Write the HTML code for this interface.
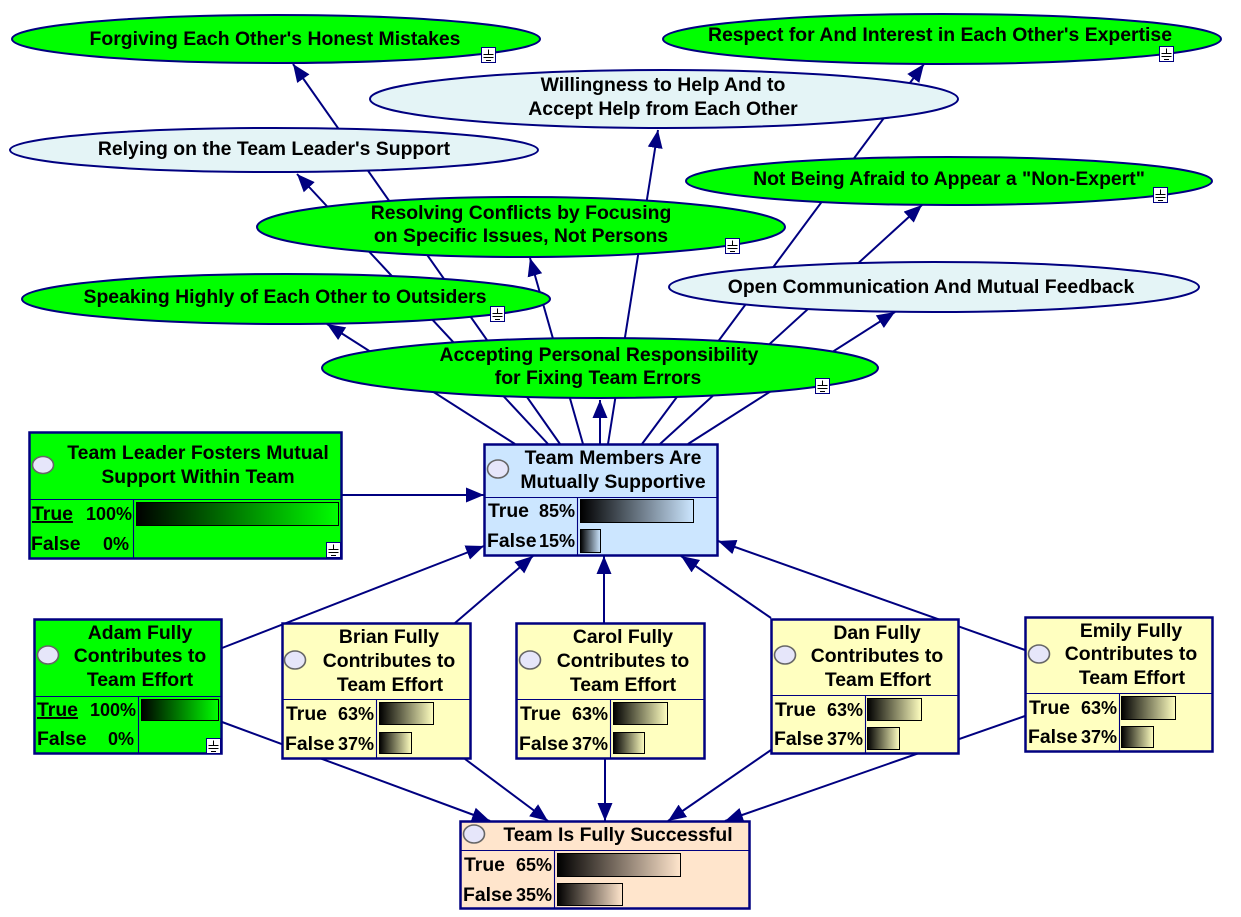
<!DOCTYPE html>
<html><head><meta charset="utf-8"><style>
html,body{margin:0;padding:0;background:#fff}
svg{display:block}
text{font-family:"Liberation Sans",Arial,sans-serif;font-weight:bold;font-size:19.4px;fill:#000}
.c{text-anchor:middle}.e{text-anchor:end;font-size:18px}
.l{stroke:#000080;stroke-width:2;fill:none}
.o{stroke:#000080;stroke-width:2.5}
.q{stroke:#000080;stroke-width:2}
.d{stroke:#000080;stroke-width:1.1;fill:none}
.b{stroke:#000;stroke-width:1}
.k{fill:#e6e6fa;stroke:#666;stroke-width:1.6}
</style></head><body>
<svg width="1241" height="917" viewBox="0 0 1241 917" xmlns="http://www.w3.org/2000/svg">
<defs>
<marker id="a" markerUnits="userSpaceOnUse" markerWidth="20" markerHeight="16" refX="18" refY="8" orient="auto"><path d="M0 0.5L18 8L0 15.5Z" fill="#000080"/></marker>
<linearGradient id="gG"><stop offset="0" stop-color="#000"/><stop offset="1" stop-color="#0f0"/></linearGradient>
<linearGradient id="gB"><stop offset="0" stop-color="#000"/><stop offset="1" stop-color="#cce6ff"/></linearGradient>
<linearGradient id="gY"><stop offset="0" stop-color="#000"/><stop offset="1" stop-color="#ffffc0"/></linearGradient>
<linearGradient id="gO"><stop offset="0" stop-color="#000"/><stop offset="1" stop-color="#ffe5cc"/></linearGradient>
<g id="bd"><rect x="0.5" y="0.5" width="14" height="15" fill="#fff" stroke="#000080"/><path d="M7.5 2.5V7M2.5 7.5H12.5M2.5 10.5H12.5M5 13.5H10" stroke="#000" fill="none"/></g>
</defs>

<!-- connectors -->
<g class="l">
<line x1="515" y1="444" x2="327" y2="324" marker-end="url(#a)"/>
<line x1="548" y1="444" x2="297" y2="174" marker-end="url(#a)"/>
<line x1="560" y1="444" x2="293" y2="64" marker-end="url(#a)"/>
<line x1="583" y1="444" x2="530" y2="258" marker-end="url(#a)"/>
<line x1="600" y1="444" x2="600" y2="400" marker-end="url(#a)"/>
<line x1="608" y1="444" x2="658" y2="130" marker-end="url(#a)"/>
<line x1="642" y1="444" x2="924" y2="64" marker-end="url(#a)"/>
<line x1="660" y1="444" x2="922" y2="205" marker-end="url(#a)"/>
<line x1="688" y1="444" x2="895" y2="312" marker-end="url(#a)"/>
<line x1="342" y1="495" x2="484" y2="495" marker-end="url(#a)"/>
<line x1="222" y1="648" x2="484" y2="546" marker-end="url(#a)"/>
<line x1="455" y1="623" x2="533" y2="556" marker-end="url(#a)"/>
<line x1="604" y1="623" x2="604" y2="556" marker-end="url(#a)"/>
<line x1="771" y1="618" x2="681" y2="556" marker-end="url(#a)"/>
<line x1="1025" y1="650" x2="718" y2="541" marker-end="url(#a)"/>
<line x1="222" y1="722" x2="490" y2="821" marker-end="url(#a)"/>
<line x1="465" y1="759" x2="548" y2="821" marker-end="url(#a)"/>
<line x1="605" y1="759" x2="605" y2="821" marker-end="url(#a)"/>
<line x1="771" y1="750" x2="668" y2="821" marker-end="url(#a)"/>
<line x1="1025" y1="716" x2="725" y2="821" marker-end="url(#a)"/>
</g>

<!-- ellipses -->
<ellipse class="q" cx="276" cy="39" rx="264" ry="24" fill="#0f0"/>
<text class="c" x="275" y="45">Forgiving Each Other's Honest Mistakes</text>
<use href="#bd" x="481" y="47"/>

<ellipse class="q" cx="942" cy="39" rx="279" ry="25" fill="#0f0"/>
<text class="c" x="940" y="41">Respect for And Interest in Each Other's Expertise</text>
<use href="#bd" x="1159" y="46"/>

<ellipse class="q" cx="664" cy="99" rx="294" ry="29" fill="#e4f4f6"/>
<text class="c" x="663" y="91">Willingness to Help And to</text>
<text class="c" x="663" y="115">Accept Help from Each Other</text>

<ellipse class="q" cx="274" cy="150" rx="264" ry="22" fill="#e4f4f6"/>
<text class="c" x="274" y="155">Relying on the Team Leader's Support</text>

<ellipse class="q" cx="949" cy="181" rx="263" ry="24" fill="#0f0"/>
<text class="c" x="949" y="185">Not Being Afraid to Appear a "Non-Expert"</text>
<use href="#bd" x="1153" y="187"/>

<ellipse class="q" cx="521" cy="227" rx="264" ry="30" fill="#0f0"/>
<text class="c" x="521" y="219">Resolving Conflicts by Focusing</text>
<text class="c" x="521" y="242">on Specific Issues, Not Persons</text>
<use href="#bd" x="725" y="238"/>

<ellipse class="q" cx="286" cy="299" rx="264" ry="25" fill="#0f0"/>
<text class="c" x="285" y="303">Speaking Highly of Each Other to Outsiders</text>
<use href="#bd" x="490" y="306"/>

<ellipse class="q" cx="934" cy="287" rx="265" ry="25" fill="#e4f4f6"/>
<text class="c" x="931" y="293">Open Communication And Mutual Feedback</text>

<ellipse class="q" cx="600" cy="368" rx="278" ry="30" fill="#0f0"/>
<text class="c" x="599" y="361">Accepting Personal Responsibility</text>
<text class="c" x="598" y="384">for Fixing Team Errors</text>
<use href="#bd" x="815" y="378"/>

<!-- Team Leader -->
<rect class="o" x="29.5" y="432.5" width="312" height="126" fill="#0f0"/>
<path class="d" d="M30 499.5H341M133.5 499V558"/>
<ellipse class="k" cx="43" cy="465" rx="10.5" ry="8.5"/>
<text class="c" x="198" y="459">Team Leader Fosters Mutual</text>
<text class="c" x="198" y="483">Support Within Team</text>
<text x="32" y="520" text-decoration="underline">True</text><text class="e" x="132" y="520">100%</text>
<text x="31" y="550">False</text><text class="e" x="129" y="550">0%</text>
<rect class="b" x="136.5" y="502.5" width="202" height="23" fill="url(#gG)"/>
<use href="#bd" x="326" y="542"/>

<!-- Team Members -->
<rect class="o" x="484.5" y="444.5" width="233" height="111" fill="#cce6ff"/>
<path class="d" d="M485 497.5H717M577.5 497V555"/>
<ellipse class="k" cx="498" cy="469" rx="10.5" ry="9"/>
<text class="c" x="613" y="464">Team Members Are</text>
<text class="c" x="613" y="488">Mutually Supportive</text>
<text x="488" y="517">True</text><text class="e" x="575" y="517">85%</text>
<text x="487" y="547">False</text><text class="e" x="575" y="547">15%</text>
<rect class="b" x="580.5" y="499.5" width="113" height="23" fill="url(#gB)"/>
<rect class="b" x="580.5" y="529.5" width="20" height="23" fill="url(#gB)"/>

<!-- Adam -->
<rect class="o" x="34.5" y="619.5" width="187" height="134" fill="#0f0"/>
<path class="d" d="M35 696.5H221M138.5 696V753"/>
<ellipse class="k" cx="48" cy="655" rx="10.5" ry="9"/>
<text class="c" x="140" y="639">Adam Fully</text>
<text class="c" x="140" y="662">Contributes to</text>
<text class="c" x="140" y="686">Team Effort</text>
<text x="37" y="716" text-decoration="underline">True</text><text class="e" x="136" y="716">100%</text>
<text x="37" y="745">False</text><text class="e" x="134" y="745">0%</text>
<rect class="b" x="141.5" y="699.5" width="77" height="21" fill="url(#gG)"/>
<use href="#bd" x="206" y="738"/>

<!-- Brian -->
<rect class="o" x="282.5" y="623.5" width="188" height="135" fill="#ffffc0"/>
<path class="d" d="M283 699.5H470M376.5 699V758"/>
<ellipse class="k" cx="295" cy="660" rx="10.5" ry="9"/>
<text class="c" x="389" y="643">Brian Fully</text>
<text class="c" x="389" y="667">Contributes to</text>
<text class="c" x="390" y="691">Team Effort</text>
<text x="286" y="720">True</text><text class="e" x="374" y="720">63%</text>
<text x="285" y="750">False</text><text class="e" x="374" y="750">37%</text>
<rect class="b" x="379.5" y="702.5" width="54" height="22" fill="url(#gY)"/>
<rect class="b" x="379.5" y="732.5" width="32" height="21" fill="url(#gY)"/>

<!-- Carol -->
<rect class="o" x="516.5" y="623.5" width="188" height="135" fill="#ffffc0"/>
<path class="d" d="M517 699.5H704M610.5 699V758"/>
<ellipse class="k" cx="530" cy="660" rx="10.5" ry="9"/>
<text class="c" x="623" y="643">Carol Fully</text>
<text class="c" x="623" y="667">Contributes to</text>
<text class="c" x="623" y="691">Team Effort</text>
<text x="520" y="720">True</text><text class="e" x="608" y="720">63%</text>
<text x="519" y="750">False</text><text class="e" x="608" y="750">37%</text>
<rect class="b" x="613.5" y="702.5" width="54" height="22" fill="url(#gY)"/>
<rect class="b" x="613.5" y="732.5" width="31" height="21" fill="url(#gY)"/>

<!-- Dan -->
<rect class="o" x="771.5" y="619.5" width="187" height="134" fill="#ffffc0"/>
<path class="d" d="M772 695.5H958M865.5 695V753"/>
<ellipse class="k" cx="785" cy="655" rx="10.5" ry="9"/>
<text class="c" x="877" y="639">Dan Fully</text>
<text class="c" x="877" y="662">Contributes to</text>
<text class="c" x="878" y="686">Team Effort</text>
<text x="775" y="716">True</text><text class="e" x="863" y="716">63%</text>
<text x="774" y="745">False</text><text class="e" x="863" y="745">37%</text>
<rect class="b" x="867.5" y="698.5" width="54" height="22" fill="url(#gY)"/>
<rect class="b" x="867.5" y="727.5" width="32" height="22" fill="url(#gY)"/>

<!-- Emily -->
<rect class="o" x="1025.5" y="617.5" width="187" height="134" fill="#ffffc0"/>
<path class="d" d="M1026 693.5H1212M1119.5 693V751"/>
<ellipse class="k" cx="1039" cy="654" rx="10.5" ry="9"/>
<text class="c" x="1131" y="637">Emily Fully</text>
<text class="c" x="1131" y="660">Contributes to</text>
<text class="c" x="1132" y="684">Team Effort</text>
<text x="1029" y="714">True</text><text class="e" x="1117" y="714">63%</text>
<text x="1028" y="743">False</text><text class="e" x="1117" y="743">37%</text>
<rect class="b" x="1121.5" y="696.5" width="54" height="23" fill="url(#gY)"/>
<rect class="b" x="1121.5" y="726.5" width="32" height="21" fill="url(#gY)"/>

<!-- Success -->
<rect class="o" x="460.5" y="821.5" width="289" height="87" fill="#ffe5cc"/>
<path class="d" d="M461 850.5H749M554.5 850V908"/>
<ellipse class="k" cx="474" cy="834" rx="10.5" ry="9"/>
<text class="c" x="618" y="841">Team Is Fully Successful</text>
<text x="464" y="871">True</text><text class="e" x="552" y="871">65%</text>
<text x="463" y="901">False</text><text class="e" x="552" y="901">35%</text>
<rect class="b" x="557.5" y="853.5" width="123" height="23" fill="url(#gO)"/>
<rect class="b" x="557.5" y="883.5" width="65" height="22" fill="url(#gO)"/>
</svg>
</body></html>
